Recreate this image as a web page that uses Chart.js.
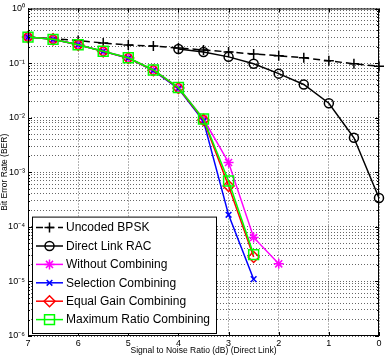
<!DOCTYPE html>
<html>
<head>
<meta charset="utf-8">
<title>BER vs SNR</title>
<script src="https://cdn.jsdelivr.net/npm/chart.js@4.4.1/dist/chart.umd.min.js"></script>
<style>
  html, body { margin: 0; padding: 0; background: #fff; }
  #chart { display: block; }
</style>
</head>
<body>
<canvas id="chart" width="388" height="358"></canvas>
<script>
// SNR of the direct link (dB) - the axis runs from 7 down to 0
const snrDb = [7, 6.5, 6, 5.5, 5, 4.5, 4, 3.5, 3, 2.5, 2, 1.5, 1, 0.5, 0];

// BER values (null = not plotted)
const uncodedBpsk        = [0.299, 0.281, 0.258, 0.233, 0.214, 0.205, 0.189, 0.174, 0.160, 0.147, 0.136, 0.125, 0.110, 0.097, 0.0875];
const directLinkRac      = [null, null, null, null, null, null, 0.181, 0.160, 0.130, 0.097, 0.064, 0.0405, 0.0184, 0.00428, 0.000337];
const withoutCombining   = [0.299, 0.272, 0.217, 0.165, 0.125, 0.0747, 0.0357, 0.00944, 0.00151, 0.000064, 0.000021, null, null, null, null];
const selectionCombining = [0.299, 0.272, 0.216, 0.164, 0.123, 0.0730, 0.0340, 0.0087, 0.000166, 0.000011, null, null, null, null, null];
const equalGainCombining = [0.299, 0.272, 0.216, 0.164, 0.124, 0.0740, 0.0350, 0.0091, 0.00056, 0.000028, null, null, null, null, null];
const maxRatioCombining  = [0.299, 0.272, 0.217, 0.165, 0.125, 0.0747, 0.0357, 0.00944, 0.00069, 0.000031, null, null, null, null, null];

// axis ticks
const xTickValues = [7, 6, 5, 4, 3, 2, 1, 0];
const yDecades = [-6, -5, -4, -3, -2, -1, 0];

const FONT = "'Liberation Sans', Arial, sans-serif";

// 1..9 x 10^k for every decade, the last decade only 10^0
const yTickValues = [];
yDecades.forEach(function(d) {
    const steps = d === 0 ? [1] : [1, 2, 3, 4, 5, 6, 7, 8, 9];
    steps.forEach(function(s) { yTickValues.push(s * Math.pow(10, d)); });
});

const SUP = { '-': '\u207B', '0': '\u2070', '1': '\u00B9', '2': '\u00B2', '3': '\u00B3', '4': '\u2074', '5': '\u2075', '6': '\u2076', '7': '\u2077', '8': '\u2078', '9': '\u2079' };
function powerLabel(v) {
    const e = Math.log10(v);
    if (Math.abs(e - Math.round(e)) > 1e-6) return '';
    return '10' + String(Math.round(e)).split('').map(c => SUP[c]).join('');
}

function toPoints(values) {
    return snrDb.map((x, i) => ({ x: x, y: values[i] }));
}

function series(label, values, color, pointStyle, radius, dash, order) {
    return {
        label: label,
        data: toPoints(values),
        borderColor: color,
        backgroundColor: color,
        borderWidth: 1.5,
        borderDash: dash || [],
        pointStyle: pointStyle,
        pointRadius: radius,
        pointBorderWidth: 1.5,
        pointBorderColor: color,
        pointBackgroundColor: 'rgba(0,0,0,0)',
        tension: 0,
        spanGaps: false,
        clip: false,
        order: order
    };
}

// axes box, inward tick marks and the legend drawn inside the plot
const boxAndLegend = {
    id: 'boxAndLegend',
    afterDraw(chart) {
        const ctx = chart.ctx;
        const area = chart.chartArea;
        const xs = chart.scales.x;
        const ys = chart.scales.y;

        ctx.save();
        ctx.strokeStyle = '#000';
        ctx.lineWidth = 1;
        ctx.strokeRect(area.left + 0.5, area.top + 0.5, area.right - area.left - 1, area.bottom - area.top - 1);

        ctx.beginPath();
        xs.ticks.forEach(function(t) {
            const px = Math.round(xs.getPixelForValue(t.value)) + 0.5;
            ctx.moveTo(px, area.bottom); ctx.lineTo(px, area.bottom - 4);
            ctx.moveTo(px, area.top); ctx.lineTo(px, area.top + 4);
        });
        ys.ticks.forEach(function(t) {
            const py = Math.round(ys.getPixelForValue(t.value)) + 0.5;
            const len = powerLabel(t.value) ? 4 : 2;
            ctx.moveTo(area.left, py); ctx.lineTo(area.left + len, py);
            ctx.moveTo(area.right, py); ctx.lineTo(area.right - len, py);
        });
        ctx.stroke();

        // legend
        const sets = chart.data.datasets;
        const rowH = 18.4;
        const bx = area.left + 4, bw = 184;
        const bh = rowH * sets.length + 6;
        const by = area.bottom - 3 - bh;
        ctx.fillStyle = '#fff';
        ctx.fillRect(bx, by, bw, bh);
        ctx.strokeStyle = '#000';
        ctx.lineWidth = 1;
        ctx.strokeRect(bx + 0.5, by + 0.5, bw, bh);

        ctx.font = '12px ' + FONT;
        ctx.textBaseline = 'middle';
        ctx.textAlign = 'left';
        sets.forEach(function(ds, i) {
            const cy = by + 11 + i * rowH;
            ctx.strokeStyle = ds.borderColor;
            ctx.lineWidth = ds.borderWidth;
            ctx.setLineDash(ds.borderDash);
            ctx.beginPath();
            ctx.moveTo(bx + 4, cy);
            ctx.lineTo(bx + 31, cy);
            ctx.stroke();
            ctx.setLineDash([]);
            ctx.fillStyle = 'rgba(0,0,0,0)';
            Chart.helpers.drawPoint(ctx, {
                pointStyle: ds.pointStyle,
                radius: ds.pointRadius,
                borderWidth: ds.pointBorderWidth,
                rotation: 0
            }, bx + 17.5, cy);
            ctx.fillStyle = '#000';
            ctx.fillText(ds.label, bx + 34, cy + 0.5);
        });
        ctx.restore();
    }
};

const gridStyle = { color: 'rgba(0,0,0,0.6)', lineWidth: 1, drawTicks: false };

new Chart(document.getElementById('chart').getContext('2d'), {
    type: 'line',
    data: {
        datasets: [
            series('Uncoded BPSK', uncodedBpsk, '#000000', 'cross', 5, [7, 4], 5),
            series('Direct Link RAC', directLinkRac, '#000000', 'circle', 4.5, null, 4),
            series('Without Combining', withoutCombining, '#ff00ff', 'star', 5, null, 3),
            series('Selection Combining', selectionCombining, '#0000ff', 'crossRot', 4, null, 2),
            series('Equal Gain Combining', equalGainCombining, '#ff0000', 'rectRot', 5.5, null, 1),
            series('Maximum Ratio Combining', maxRatioCombining, '#00ff00', 'rect', 7, null, 0)
        ]
    },
    options: {
        responsive: false,
        animation: false,
        devicePixelRatio: 1,
        layout: { padding: { top: 6, right: 9, bottom: 2, left: 0 } },
        plugins: {
            legend: { display: false },
            tooltip: { enabled: false }
        },
        scales: {
            x: {
                type: 'linear',
                reverse: true,
                min: 0,
                max: 7,
                afterBuildTicks: function(scale) {
                    scale.ticks = xTickValues.map(v => ({ value: v }));
                },
                afterFit: function(scale) { scale.height = 20; },
                ticks: {
                    padding: 2,
                    color: '#000',
                    maxRotation: 0,
                    autoSkip: false,
                    font: { family: FONT, size: 9 }
                },
                grid: gridStyle,
                border: { display: false, dash: [1, 2] },
                title: {
                    display: true,
                    text: 'Signal to Noise Ratio (dB) (Direct Link)',
                    color: '#000',
                    padding: 0,
                    font: { family: FONT, size: 8.5 }
                }
            },
            y: {
                type: 'logarithmic',
                min: 1e-6,
                max: 1,
                afterBuildTicks: function(scale) {
                    scale.ticks = yTickValues.map(v => ({ value: v }));
                },
                afterFit: function(scale) { scale.width = 28; },
                ticks: {
                    padding: 3,
                    color: '#000',
                    autoSkip: false,
                    font: { family: FONT, size: 9 },
                    callback: function(v) { return powerLabel(v); }
                },
                grid: gridStyle,
                border: { display: false, dash: [1, 2] },
                title: {
                    display: true,
                    text: 'Bit Error Rate (BER)',
                    color: '#000',
                    padding: 0,
                    font: { family: FONT, size: 8.5 }
                }
            }
        }
    },
    plugins: [boxAndLegend]
});
</script>
</body>
</html>
